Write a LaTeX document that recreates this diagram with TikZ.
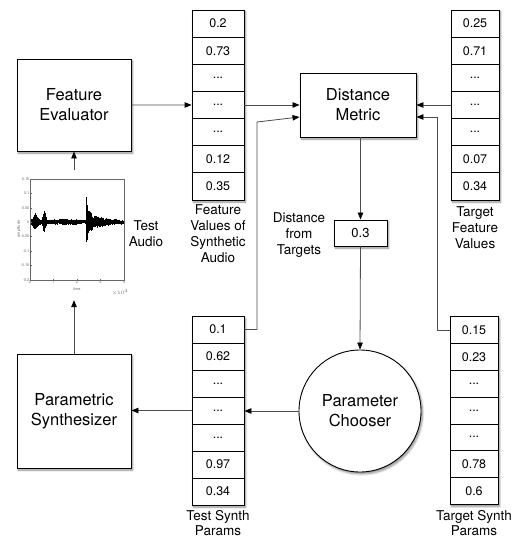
\documentclass[tikz,border=0pt]{standalone}
\usepackage{fontspec}
\setmainfont{TeX Gyre Heros}
\usetikzlibrary{arrows.meta,shadows,shadows.blur,calc}
\newcommand\ellip{...}
\begin{document}
\begin{tikzpicture}[x=1pt,y=-1pt,
  shd/.style={blur shadow={shadow xshift=1.5pt,shadow yshift=-2pt,shadow blur steps=6,shadow opacity=45}},
  box/.style={draw=black,line width=0.9pt,fill=white,shd,font=\fontsize{16.5}{20}\selectfont,align=center,inner sep=0pt},
  col/.style={fill=white,shd,inner sep=0pt},
  cell/.style={draw=black,line width=0.8pt,fill=white,inner sep=0pt,font=\fontsize{12.5}{14}\selectfont},
  lbl/.style={font=\fontsize{13.5}{16}\selectfont,align=center,inner sep=0pt},
  conn/.style={draw=black!70,line width=0.8pt},
  arr/.style={conn,-{Triangle[length=7pt,width=5.5pt,color=black]}},
  tick/.style={font=\fontsize{3.8}{4}\selectfont,text=black!60,inner sep=0.5pt}]
\useasboundingbox (0,0) rectangle (521,540);

% main boxes
\node[box,minimum width=114pt,minimum height=92pt] (FE) at (74,105) {Feature\\Evaluator};
\node[box,minimum width=114pt,minimum height=114pt] (PS) at (74,411) {Parametric\\Synthesizer};
\node[box,minimum width=116pt,minimum height=64pt] (DM) at (358,105) {Distance\\Metric};
\node[box,circle,minimum size=122pt] (PC) at (360,411) {Parameter\\Chooser};
\node[box,minimum width=53pt,minimum height=26pt,font=\fontsize{13}{15}\selectfont] (d03) at (360.5,233) {0.3};

% columns
\node[col,minimum width=52pt,minimum height=190pt] (fvcol) at (218,105) {};
\foreach \v [count=\i] in {0.2,0.73,\ellip,\ellip,\ellip,0.12,0.35}
  \node[cell,minimum width=52pt,minimum height=27.14pt] (fv\i) at (218,{10+27.14*(\i-0.5)}) {\v};
\node[col,minimum width=48pt,minimum height=190pt] (tfcol) at (475,105) {};
\foreach \v [count=\i] in {0.25,0.71,\ellip,\ellip,\ellip,0.07,0.34}
  \node[cell,minimum width=48pt,minimum height=27.14pt] (tf\i) at (475,{10+27.14*(\i-0.5)}) {\v};
\node[col,minimum width=52pt,minimum height=189pt] (tscol) at (218,410.5) {};
\foreach \v [count=\i] in {0.1,0.62,\ellip,\ellip,\ellip,0.97,0.34}
  \node[cell,minimum width=52pt,minimum height=27pt] (ts\i) at (218,{316+27*(\i-0.5)}) {\v};
\node[col,minimum width=48pt,minimum height=188pt] (tgcol) at (474,410.5) {};
\foreach \v [count=\i] in {0.15,0.23,\ellip,\ellip,\ellip,0.78,0.6}
  \node[cell,minimum width=48pt,minimum height=26.85pt] (tg\i) at (474,{316.5+26.85*(\i-0.5)}) {\v};

% labels
\node[lbl] (lfv) at (218,234) {Feature\\Values of\\Synthetic\\Audio};
\node[lbl] (ltf) at (475,228) {Target\\Feature\\Values};
\node[lbl,font=\fontsize{13.5}{15}\selectfont] (lts) at (218,523) {Test Synth\\Params};
\node[lbl,font=\fontsize{13.5}{15}\selectfont] (ltg) at (474,523) {Target Synth\\Params};
\node[lbl] (ld) at (299,235) {Distance\\from\\Targets};
\node[lbl] (lta) at (146,234) {Test\\Audio};

% waveform plot
\node[minimum width=100pt,minimum height=130pt,inner sep=0pt] (wave) at (74,235) {};
\begin{scope}[shift={(30,222)}]
\pgfmathsetseed{5}
\foreach \i in {0,...,300}{
  \pgfmathsetmacro\t{\i/75}
  \pgfmathsetmacro\pa{(\t-0.22)/0.13}
  \pgfmathsetmacro\pb{(\t-0.6)/0.07}
  \pgfmathsetmacro\pc{(\t-1.5)/0.5}
  \pgfmathsetmacro\u{max(\t-2.38,0)}
  \pgfmathsetmacro\e{2.2+6.5*exp(-min(\pa*\pa,30))+10*exp(-min(\pb*\pb,30))+1.3*exp(-min(\pc*\pc,30))+(\t>2.38)*(22*exp(-min(\u/0.05,30))+11*exp(-min(\u/0.45,30)))}
  \pgfmathsetmacro\a{\e*(0.25+0.75*rnd)}
  \pgfmathsetmacro\b{\e*(0.25+0.75*rnd)}
  \draw[line width=0.5pt] (\t*23.5,-\a) -- (\t*23.5,\b);
}
\end{scope}
\draw[line width=0.3pt,black!60] (30,179) rectangle (124,280);
\foreach \v/\y in {0.15/179,0.1/193.4,0.05/207.8,0/222.2,-0.05/236.6,-0.1/251,-0.15/265.4,-0.2/279.8}{
  \draw[line width=0.3pt,black!60] (30,\y) -- (31.5,\y);
  \node[tick,anchor=east] at (30,\y) {\v};
}
\foreach \v in {0,...,4}{
  \draw[line width=0.3pt,black!60] ({30+23.5*\v},280) -- ({30+23.5*\v},278.5);
  \node[tick,anchor=north] at ({30+23.5*\v},280.5) {\v};
}
\node[tick] at (77,289) {time};
\node[tick,rotate=90] at (19,229) {amplitude};
\node[tick] at (120,292) {$\times10^4$};

% connectors
\coordinate (lk) at (257,122);
\coordinate (rk) at (437,117);
\draw[arr] (FE.east) -- (fv4.west);
\draw[arr] (fv4.east) -- (fv4.east -| DM.west);
\draw[arr] (tf4.west) -- (tf4.west -| DM.east);
\draw[arr] (ts1.east) -| (lk) -- ($(DM.west)+(0,12)$);
\draw[arr] (tg1.west) -| (rk) -- (rk -| DM.east);
\draw[arr] (DM.south -| d03.north) -- (d03.north);
\draw[arr] (d03.south) -- (PC.north);
\draw[arr] (PC.west) -- (PC.west -| ts4.east);
\draw[arr] (ts4.west) -- (ts4.west -| PS.east);
\draw[arr] (PS.north) -- (wave.south);
\draw[arr] (wave.north) -- (FE.south);
\end{tikzpicture}
\end{document}
